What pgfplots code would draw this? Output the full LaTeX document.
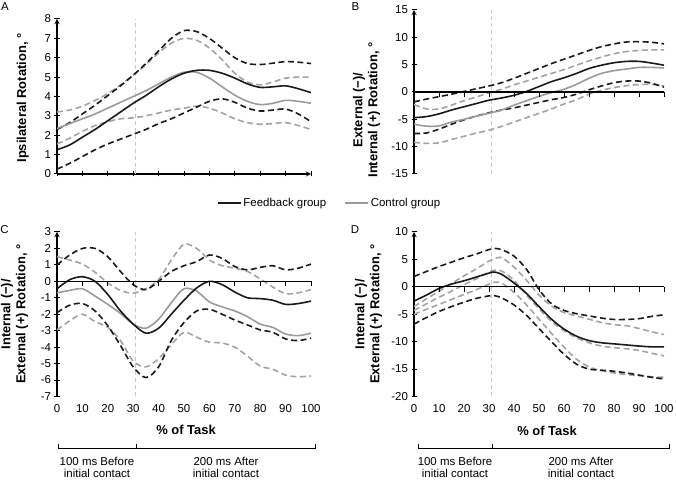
\documentclass[border=0pt]{standalone}
\usepackage{pgfplots}
\pgfplotsset{compat=1.18}
\usepackage{pgfplotstable}
\usepackage{fontspec}
\setmainfont{Liberation Sans}
\definecolor{fbk}{HTML}{1A1A1A}
\definecolor{ctl}{HTML}{9A9A9A}
\definecolor{ctld}{HTML}{A3A3A3}
\definecolor{vline}{HTML}{CACACA}
\newcommand\tfont{\fontsize{11.5}{12}\selectfont}
\newcommand\bfont{\fontsize{13}{15}\selectfont\bfseries}

\pgfplotstableread{
x fm fu fl cm cu cl
0 1.25 2.3 0.25 2.35 3.2 1.55
5 1.5 2.65 0.55 2.6 3.3 1.85
10 1.9 3.1 0.9 2.85 3.5 2.2
15 2.3 3.55 1.25 3.1 3.8 2.5
20 2.75 4.05 1.55 3.4 4.15 2.7
25 3.2 4.55 1.8 3.7 4.6 2.85
30 3.65 5.1 2.05 4.0 5.1 2.9
35 4.05 5.7 2.3 4.3 5.65 3.0
40 4.5 6.35 2.6 4.65 6.25 3.15
45 4.9 7.0 2.85 5.0 6.75 3.3
50 5.2 7.4 3.15 5.25 7.0 3.4
55 5.35 7.35 3.45 5.25 6.9 3.5
60 5.35 7.0 3.75 4.95 6.5 3.4
65 5.2 6.5 3.88 4.5 5.9 3.15
70 4.95 6.0 3.7 4.07 5.2 2.85
75 4.65 5.7 3.4 3.75 4.75 2.65
80 4.47 5.65 3.25 3.58 4.6 2.57
85 4.5 5.72 3.3 3.65 4.75 2.6
90 4.55 5.8 3.35 3.8 4.95 2.65
95 4.4 5.77 3.1 3.75 5.0 2.5
100 4.2 5.7 2.7 3.65 5.0 2.3
}\tabA

\pgfplotstableread{
x fm fu fl cm cu cl
0 -4.7 -1.8 -7.6 -5.9 -2.3 -9.2
5 -4.5 -1.3 -7.5 -6.25 -3.1 -9.4
10 -4.0 -0.85 -6.8 -6.2 -3.1 -9.3
15 -3.3 -0.4 -5.9 -5.5 -2.4 -8.7
20 -2.7 0.1 -5.1 -5.0 -1.6 -8.1
25 -2.1 0.6 -4.4 -4.4 -0.9 -7.5
30 -1.5 1.1 -3.8 -3.9 -0.15 -7.0
35 -1.1 1.7 -3.3 -3.3 0.5 -6.3
40 -0.6 2.5 -2.9 -2.4 1.3 -5.5
45 0.1 3.4 -2.4 -1.6 2.0 -4.7
50 1.0 4.3 -1.9 -0.8 2.7 -3.9
55 1.9 5.2 -1.4 -0.1 3.4 -3.1
60 2.6 6.0 -1.0 0.5 4.1 -2.2
65 3.4 6.8 -0.4 1.4 4.9 -1.4
70 4.3 7.6 0.4 2.5 5.7 -0.4
75 4.9 8.3 1.1 3.4 6.4 0.3
80 5.35 8.8 1.7 3.9 7.0 0.8
85 5.6 9.15 2.0 4.2 7.4 1.15
90 5.6 9.2 2.0 4.5 7.6 1.35
95 5.3 9.1 1.6 4.5 7.7 1.4
100 4.9 8.8 0.9 4.4 7.7 1.1
}\tabB

\pgfplotstableread{
x fm fu fl cm cu cl
0 -0.45 1.0 -1.9 -0.7 1.5 -2.95
5 0.1 1.6 -1.45 -0.55 1.3 -2.4
10 0.28 2.0 -1.35 -0.45 1.05 -2.0
15 0.0 2.0 -1.8 -0.9 0.55 -2.45
20 -0.8 1.5 -2.7 -1.4 -0.1 -2.8
25 -1.8 0.6 -3.9 -1.95 -0.55 -3.6
30 -2.6 -0.2 -5.2 -2.6 -0.72 -4.85
35 -3.15 -0.5 -5.85 -2.85 -0.45 -5.2
40 -2.85 0.0 -5.2 -2.3 0.1 -4.7
45 -2.0 0.6 -3.6 -1.3 1.3 -3.85
50 -1.15 0.95 -2.5 -0.45 2.25 -3.1
55 -0.4 1.2 -1.8 -0.6 2.0 -3.4
60 0.0 1.6 -1.7 -1.25 1.3 -3.7
65 -0.2 1.4 -2.0 -1.55 0.95 -3.75
70 -0.65 0.9 -2.35 -1.8 0.8 -4.0
75 -1.0 0.7 -2.65 -2.15 0.6 -4.55
80 -1.05 0.85 -2.95 -2.6 0.15 -5.15
85 -1.15 0.95 -3.1 -2.8 -0.35 -5.35
90 -1.4 0.7 -3.5 -3.2 -0.75 -5.7
95 -1.35 0.8 -3.6 -3.3 -0.7 -5.8
100 -1.2 1.05 -3.45 -3.15 -0.5 -5.75
}\tabC

\pgfplotstableread{
x fm fu fl cm cu cl
0 -2.6 1.9 -6.8 -4.3 -3.6 -5.0
5 -1.5 2.8 -5.6 -3.1 -2.2 -4.1
10 -0.3 3.7 -4.5 -1.9 -0.8 -3.2
15 0.5 4.5 -3.6 -0.8 0.6 -2.3
20 1.1 5.3 -2.8 0.4 2.0 -1.4
25 1.8 6.0 -2.1 1.5 3.3 -0.5
30 2.5 6.8 -1.65 2.7 4.7 0.5
32 2.7 7.0 -1.6 3.0 5.1 0.83
35 2.3 6.8 -2.0 2.9 5.35 0.7
40 0.7 5.6 -3.3 1.2 3.6 -1.0
45 -1.2 3.2 -5.2 -1.5 1.2 -3.3
50 -3.6 -0.5 -7.6 -4.0 -1.5 -5.9
55 -5.9 -3.1 -10.0 -6.3 -3.5 -8.5
60 -7.7 -4.3 -12.3 -8.0 -4.7 -11.0
65 -9.0 -4.9 -14.1 -9.3 -5.3 -13.2
70 -9.8 -5.3 -15.0 -10.2 -5.9 -14.6
75 -10.2 -5.7 -15.2 -10.8 -6.5 -15.3
80 -10.4 -5.95 -15.4 -11.1 -6.9 -15.7
85 -10.6 -5.95 -15.7 -11.3 -7.1 -16.0
90 -10.8 -5.8 -16.1 -11.6 -7.6 -16.2
95 -10.95 -5.4 -16.5 -12.1 -8.2 -16.4
100 -10.95 -5.1 -16.8 -12.6 -8.7 -16.5
}\tabD

\pgfplotsset{
  panel/.style={scale only axis, anchor=south west, xmin=0, xmax=100,
    axis line style={-, line width=1.3bp, black},
    tick style={line width=1bp, black}, major tick length=5bp, tick align=outside,
    /pgf/number format/assume math mode=true,
    tick label style={font=\tfont},
    xtick={0,10,...,100},
    ylabel style={anchor=center, align=center, font=\bfont},
    xlabel style={anchor=center, font=\bfont}},
  zero/.style={scale only axis, anchor=south west, xmin=0, xmax=100,
    axis x line=middle, axis y line=none,
    xtick={0,10,...,100}, xticklabels={}, hide obscured x ticks=false,
    axis line style={-, line width=1.3bp, black},
    tick style={line width=1bp, black}, major tick length=5bp, tick align=outside},
  fmean/.style={fbk, line width=1.6bp, smooth},
  cmean/.style={ctl, line width=1.6bp, smooth},
  fband/.style={fbk, line width=1.6bp, dash pattern=on 6bp off 3.5bp, smooth},
  cband/.style={ctld, line width=1.6bp, dash pattern=on 6bp off 3.5bp, smooth},
  vdash/.style={vline, line width=1bp, dash pattern=on 4bp off 3bp},
}

\begin{document}
\begin{tikzpicture}
\path[use as bounding box] (0bp,0bp) rectangle (676bp,481bp);

% ---------- A ----------
\begin{axis}[panel, at={(57bp,307bp)}, width=254bp, height=155bp,
  ymin=0, ymax=8, ytick={0,1,...,8},
  axis x line=bottom, axis y line=left, xticklabels={},
  ylabel={Ipsilateral Rotation, °},
  ylabel style={at={(axis description cs:-0.135,0.49)}}]
\addplot[vdash] coordinates {(31,0) (31,8)};
\addplot[cband] table[x=x,y=cu] {\tabA};
\addplot[cband] table[x=x,y=cl] {\tabA};
\addplot[fband] table[x=x,y=fu] {\tabA};
\addplot[fband] table[x=x,y=fl] {\tabA};
\addplot[cmean] table[x=x,y=cm] {\tabA};
\addplot[fmean] table[x=x,y=fm] {\tabA};
\end{axis}

% ---------- B ----------
\begin{axis}[panel, at={(414bp,307bp)}, width=250bp, height=164bp,
  ymin=-15, ymax=15, ytick={-15,-10,...,15},
  axis x line=none, axis y line=left,
  ylabel={External (−)/\\Internal (+) Rotation, °},
  ylabel style={at={(axis description cs:-0.19,0.39)}}]
\addplot[vdash] coordinates {(31,-15) (31,15)};
\addplot[cband] table[x=x,y=cu] {\tabB};
\addplot[cband] table[x=x,y=cl] {\tabB};
\addplot[fband] table[x=x,y=fu] {\tabB};
\addplot[fband] table[x=x,y=fl] {\tabB};
\addplot[cmean] table[x=x,y=cm] {\tabB};
\addplot[fmean] table[x=x,y=fm] {\tabB};
\end{axis}
\begin{axis}[zero, at={(414bp,307bp)}, width=250bp, height=164bp, ymin=-15, ymax=15]
\end{axis}

% ---------- C ----------
\begin{axis}[panel, at={(57bp,84.5bp)}, width=254bp, height=164.5bp,
  ymin=-7, ymax=3, ytick={-7,-6,...,3},
  axis x line=bottom, axis y line=left,
  x axis line style={draw=none}, xtick style={draw=none},
  xticklabel style={yshift=-2bp},
  xlabel={\% of Task},
  xlabel style={at={(axis description cs:0.508,-0.204)}},
  ylabel={Internal (−)/\\External (+) Rotation, °},
  ylabel style={at={(axis description cs:-0.167,0.5)}},
  legend style={at={(axis description cs:1.073,1.176)}, anchor=center,
    draw=none, fill=none, legend columns=2, font=\tfont,
    /tikz/every even column/.append style={column sep=16bp}},
  legend image code/.code={\draw[#1] (0bp,0bp) -- (23bp,0bp);}]
\addplot[vdash, forget plot] coordinates {(31,-7) (31,3)};
\addplot[cband, forget plot] table[x=x,y=cu] {\tabC};
\addplot[cband, forget plot] table[x=x,y=cl] {\tabC};
\addplot[fband, forget plot] table[x=x,y=fu] {\tabC};
\addplot[fband, forget plot] table[x=x,y=fl] {\tabC};
\addplot[cmean, forget plot] table[x=x,y=cm] {\tabC};
\addplot[fmean, forget plot] table[x=x,y=fm] {\tabC};
\addlegendimage{fbk, line width=1.6bp}
\addlegendentry{Feedback group}
\addlegendimage{ctl, line width=1.6bp}
\addlegendentry{Control group}
\end{axis}
\begin{axis}[zero, at={(57bp,84.5bp)}, width=254bp, height=164.5bp, ymin=-7, ymax=3]
\end{axis}

% ---------- D ----------
\begin{axis}[panel, at={(414bp,84.5bp)}, width=250bp, height=164.5bp,
  ymin=-20, ymax=10, ytick={-20,-15,...,10},
  axis x line=bottom, axis y line=left,
  x axis line style={draw=none}, xtick style={draw=none},
  xticklabel style={yshift=-2bp},
  xlabel={\% of Task},
  xlabel style={at={(axis description cs:0.532,-0.21)}},
  ylabel={Internal (−)/\\External (+) Rotation, °},
  ylabel style={at={(axis description cs:-0.182,0.5)}}]
\addplot[vdash] coordinates {(31,-20) (31,10)};
\addplot[cband] table[x=x,y=cu] {\tabD};
\addplot[cband] table[x=x,y=cl] {\tabD};
\addplot[fband] table[x=x,y=fu] {\tabD};
\addplot[fband] table[x=x,y=fl] {\tabD};
\addplot[cband] table[x=x,y=cm] {\tabD};
\addplot[fmean] table[x=x,y=fm] {\tabD};
\end{axis}
\begin{axis}[zero, at={(414bp,84.5bp)}, width=250bp, height=164.5bp, ymin=-20, ymax=10]
\end{axis}

% ---------- panel letters ----------
\node[font=\tfont] at (5bp,474.5bp) {A};
\node[font=\tfont] at (355.5bp,474.5bp) {B};
\node[font=\tfont] at (4.5bp,251.5bp) {C};
\node[font=\tfont] at (355bp,251.5bp) {D};

% ---------- brackets ----------
\draw[line width=1bp] (58bp,37bp) -- (58bp,32bp) -- (315bp,32bp) -- (315bp,37bp);
\draw[line width=1bp] (136bp,32bp) -- (136bp,37bp);
\node[font=\tfont, align=center] at (97bp,13.5bp) {100 ms Before\\initial contact};
\node[font=\tfont, align=center] at (226bp,13.5bp) {200 ms After\\initial contact};
\draw[line width=1bp] (418bp,37bp) -- (418bp,32bp) -- (669bp,32bp) -- (669bp,37bp);
\draw[line width=1bp] (492bp,32bp) -- (492bp,37bp);
\node[font=\tfont, align=center] at (455bp,13.5bp) {100 ms Before\\initial contact};
\node[font=\tfont, align=center] at (581bp,13.5bp) {200 ms After\\initial contact};
\end{tikzpicture}
\end{document}
